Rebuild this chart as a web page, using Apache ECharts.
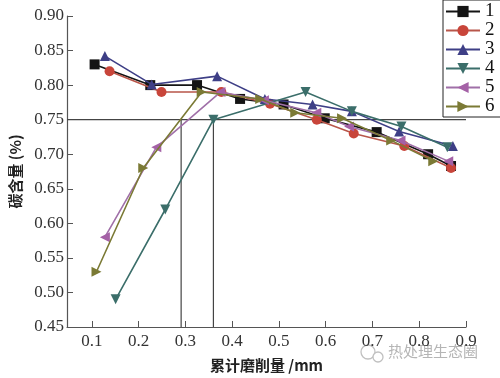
<!DOCTYPE html>
<html>
<head>
<meta charset="utf-8">
<script src="https://cdn.jsdelivr.net/npm/echarts@6/dist/echarts.min.js"></script>
<style>
  html, body { margin: 0; padding: 0; background: #fff; }
  #chart { width: 500px; height: 378px; }
</style>
</head>
<body>
<div id="chart"></div>
<script>
// series points: [累计磨削量 mm, 碳含量 %]
const s1 = [[0.106, 0.83], [0.225, 0.80], [0.325, 0.80], [0.417, 0.78], [0.51, 0.772], [0.598, 0.752], [0.709, 0.732], [0.819, 0.70], [0.868, 0.683]];
const s2 = [[0.138, 0.82], [0.249, 0.79], [0.377, 0.79], [0.481, 0.773], [0.581, 0.75], [0.66, 0.73], [0.768, 0.712], [0.868, 0.68]];
const s3 = [[0.128, 0.842], [0.228, 0.801], [0.368, 0.813], [0.47, 0.78], [0.572, 0.772], [0.656, 0.762], [0.757, 0.733], [0.872, 0.712]];
const s4 = [[0.151, 0.49], [0.257, 0.62], [0.36, 0.75], [0.557, 0.79], [0.656, 0.762], [0.762, 0.74], [0.86, 0.71]];
const s5 = [[0.128, 0.58], [0.238, 0.71], [0.375, 0.79], [0.468, 0.778], [0.58, 0.76], [0.65, 0.74], [0.76, 0.72], [0.862, 0.69]];
const s6 = [[0.11, 0.53], [0.21, 0.68], [0.335, 0.79], [0.46, 0.78], [0.535, 0.76], [0.635, 0.752], [0.74, 0.72], [0.83, 0.69]];
const names = ['1', '2', '3', '4', '5', '6'];
const refH = [[0.047, 0.75], [0.9, 0.75]];
const refV1 = [[0.291, 0.75], [0.291, 0.45]];
const refV2 = [[0.36, 0.75], [0.36, 0.45]];
const xTicks = [0.1, 0.2, 0.3, 0.4, 0.5, 0.6, 0.7, 0.8, 0.9];

const colors = ['#141414', '#c8453a', '#3e3f86', '#3b6e6a', '#a461a6', '#7b7a35'];
const lineColors = ['#141414', '#b8564a', '#3e3f86', '#3b6e6a', '#a070a8', '#7b7a35'];
const symbols = ['rect', 'circle', 'triangle', 'triangle', 'triangle', 'triangle'];
const rotates = [0, 0, 0, 180, 90, -90];
const allData = [s1, s2, s3, s4, s5, s6];

const serif = "'Liberation Serif', 'Times New Roman', serif";
const cjk = "'Noto Sans CJK SC', sans-serif";

const chart = echarts.init(document.getElementById('chart'));

const series = allData.map((d, i) => ({
    name: names[i],
    type: 'line',
    data: d,
    symbol: symbols[i],
    symbolSize: 10,
    symbolRotate: rotates[i],
    lineStyle: { color: lineColors[i], width: 1.6 },
    itemStyle: { color: colors[i] },
    z: 3 + i
}));

const refStyle = { type: 'line', symbol: 'none', silent: true, lineStyle: { color: '#444', width: 1.2 }, z: 1 };
series.push(Object.assign({ data: refH }, refStyle));
series.push(Object.assign({ data: refV1 }, refStyle));
series.push(Object.assign({ data: refV2 }, refStyle));

chart.setOption({
    animation: false,
    backgroundColor: '#fff',
    textStyle: { fontFamily: serif },
    grid: { left: 64, right: 34, top: 16, bottom: 48, containLabel: false },
    legend: {
        data: names,
        orient: 'vertical',
        left: 443,
        top: 0,
        itemWidth: 34,
        itemHeight: 14,
        itemGap: 0,
        padding: [2, 8, 1, 2],
        borderColor: '#222',
        borderWidth: 1,
        backgroundColor: '#fff',
        textStyle: { fontFamily: serif, fontSize: 19, color: '#111' }
    },
    xAxis: {
        type: 'value',
        min: 0.047,
        max: 0.9,
        name: '累计磨削量 /mm',
        nameLocation: 'middle',
        nameGap: 31,
        nameTextStyle: { fontFamily: cjk, fontSize: 15, color: '#222', fontWeight: 'bold' },
        axisLine: { show: true, lineStyle: { color: '#555', width: 1.2 } },
        axisTick: { show: true, inside: true, length: 6, customValues: xTicks, lineStyle: { color: '#555' } },
        axisLabel: { customValues: xTicks, fontFamily: serif, fontSize: 17, color: '#333', margin: 6,
            formatter: v => v.toFixed(1) },
        splitLine: { show: false }
    },
    yAxis: {
        type: 'value',
        min: 0.45,
        max: 0.9,
        interval: 0.05,
        name: '碳含量 (%)',
        nameLocation: 'middle',
        nameGap: 44,
        nameTextStyle: { fontFamily: cjk, fontSize: 15, color: '#222', fontWeight: 'bold' },
        axisLine: { show: true, lineStyle: { color: '#555', width: 1.2 } },
        axisTick: { show: true, inside: true, length: 6, lineStyle: { color: '#555' } },
        axisLabel: { fontFamily: serif, fontSize: 17, color: '#333', margin: 3,
            formatter: v => v.toFixed(2) },
        splitLine: { show: false }
    },
    graphic: [
        {
            type: 'text',
            left: 388,
            top: 344,
            style: { text: '热处理生态圈', fontFamily: cjk, fontSize: 15, fill: '#b5b5b5' }
        },
        {
            type: 'circle',
            shape: { cx: 368, cy: 352, r: 7 },
            style: { fill: 'none', stroke: '#c0c0c0', lineWidth: 1.3 }
        },
        {
            type: 'circle',
            shape: { cx: 378, cy: 357, r: 5 },
            style: { fill: '#fff', stroke: '#c0c0c0', lineWidth: 1.3 }
        }
    ],
    series: series
});
</script>
</body>
</html>
